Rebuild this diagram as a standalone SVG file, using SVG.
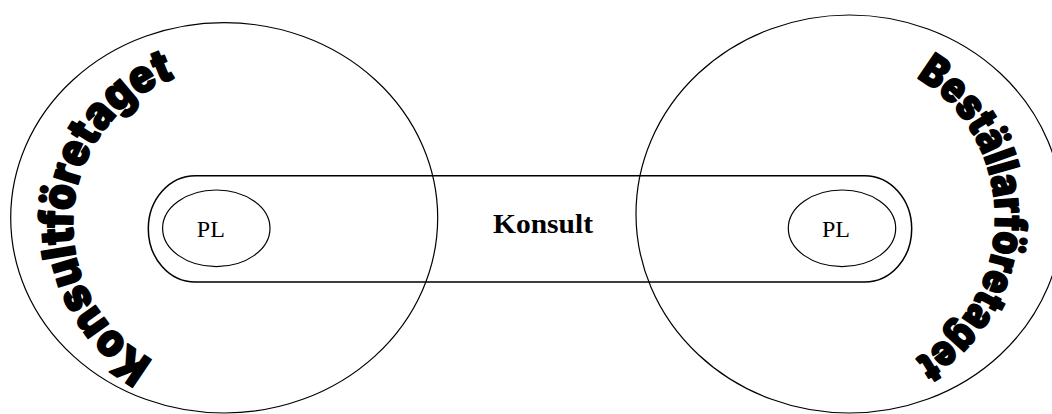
<svg xmlns="http://www.w3.org/2000/svg" width="1052" height="414" viewBox="0 0 1052 414">
  <style>
    .outline { fill: none; stroke: #000; stroke-width: 1.2; }
    .band { fill: none; stroke: #000; stroke-width: 1.5; }
    .pl { font-family: "Liberation Serif", "Times New Roman", serif; font-size: 24px; fill: #000; }
    .label { font-family: "Liberation Serif", "Times New Roman", serif; font-size: 28px; font-weight: bold; fill: #000; }
    .arc { font-family: "Inter", "Liberation Sans", Arial, sans-serif; font-weight: 900; fill: #000; stroke: #000; stroke-width: 1.6; stroke-linejoin: round; }
  </style>
  <defs>
    <path id="leftArc" d="M153.1,360 A151,154 0 0 1 179.8,76.7"/>
    <path id="rightArc" d="M916.2,77.7 A146,158 0 0 1 915.3,358.8"/>
  </defs>
  <rect width="1052" height="414" fill="#fff"/>

  <g id="konsult">
    <rect class="band" x="148.3" y="175.7" width="763.4" height="106.3" rx="47" ry="53"/>
    <text class="label" x="543" y="233.3" text-anchor="middle" textLength="100" lengthAdjust="spacingAndGlyphs">Konsult</text>
  </g>

  <g id="konsultforetaget">
    <ellipse class="outline" cx="224.2" cy="217.8" rx="213.5" ry="195.2"/>
    <text class="arc" font-size="46"><textPath href="#leftArc" textLength="355" lengthAdjust="spacingAndGlyphs">Konsultföretaget</textPath></text>
  </g>

  <g id="bestallarforetaget">
    <ellipse class="outline" cx="849.4" cy="214" rx="213.4" ry="199"/>
    <text class="arc" font-size="43"><textPath href="#rightArc" textLength="338" lengthAdjust="spacingAndGlyphs">Beställarföretaget</textPath></text>
  </g>

  <g id="pl-left">
    <ellipse class="outline" cx="216.3" cy="228.3" rx="53.7" ry="38.3"/>
    <text class="pl" x="210.8" y="237.3" text-anchor="middle">PL</text>
  </g>

  <g id="pl-right">
    <ellipse class="outline" cx="842" cy="228.3" rx="53.7" ry="38.3"/>
    <text class="pl" x="836" y="237.3" text-anchor="middle">PL</text>
  </g>
</svg>
